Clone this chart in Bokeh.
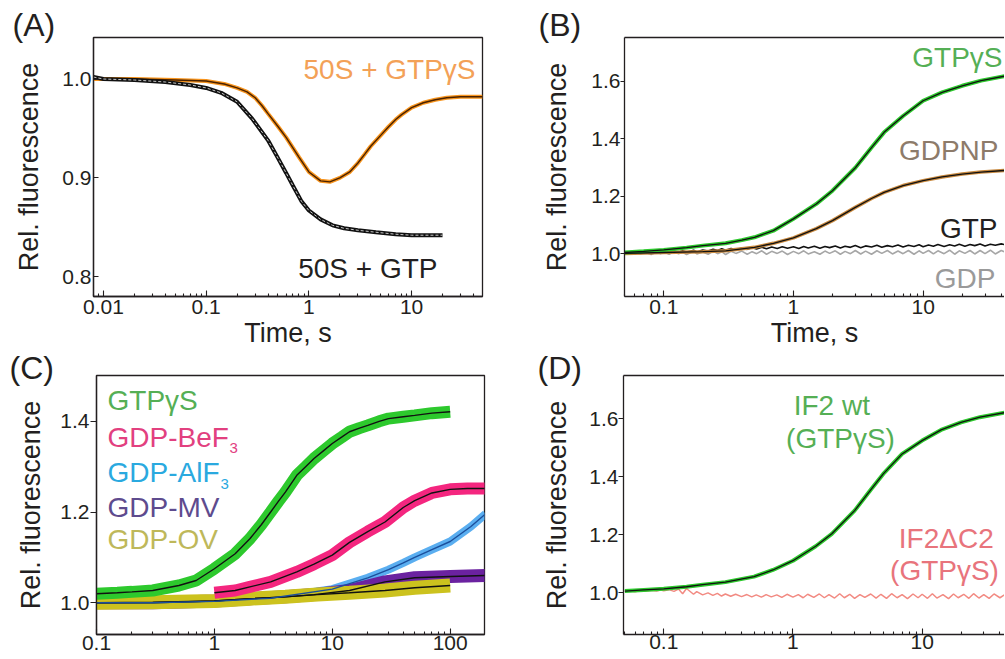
import math
from bokeh.plotting import figure
from bokeh.models import (Label, FixedTicker, LogAxis, CustomJSTickFormatter,
                          PrintfTickFormatter, Range1d)
from bokeh.layouts import column, row
from bokeh.embed import file_html
from bokeh.resources import INLINE

FONT = "Liberation Sans"
INK = "#231f20"

# ---------------- data ----------------
# Panel A
A_X_TICKS = [0.01, 0.1, 1, 10]
A_Y_TICKS = [0.8, 0.9, 1.0]
A_GTPGS_T = [0.008, 0.01, 0.02, 0.05, 0.1, 0.15, 0.2, 0.25, 0.3, 0.35,
             0.4, 0.5, 0.6, 0.8, 1.0, 1.3, 1.6, 2.0, 2.5, 3.0,
             3.5, 4.0, 5.0, 6.0, 7.0, 8.0, 10, 13, 17, 22, 30, 40, 49]
A_GTPGS_V = [1.0, 1.0, 1.0, 0.999, 0.998, 0.995, 0.991, 0.987, 0.981, 0.973,
             0.965, 0.952, 0.941, 0.921, 0.906, 0.897, 0.896, 0.900, 0.906, 0.915,
             0.924, 0.932, 0.943, 0.952, 0.959, 0.964, 0.971, 0.976, 0.979, 0.981,
             0.982, 0.982, 0.982]
A_GTP_T = [0.008, 0.01, 0.02, 0.04, 0.07, 0.1, 0.14, 0.2, 0.28, 0.4,
           0.5, 0.6, 0.7, 0.85, 1.0, 1.3, 1.7, 2.2, 3.0, 4.5,
           7, 10, 15, 20]
A_GTP_V = [1.002, 1.0, 0.999, 0.997, 0.994, 0.991, 0.986, 0.977, 0.960, 0.938,
           0.920, 0.905, 0.892, 0.876, 0.867, 0.858, 0.852, 0.849, 0.847, 0.845,
           0.843, 0.842, 0.842, 0.842]

# Panel B
B_X_TICKS = [0.1, 1, 10]
B_Y_TICKS = [1.0, 1.2, 1.4, 1.6]
B_GTPGS_T = [0.05, 0.07, 0.1, 0.15, 0.2, 0.3, 0.4, 0.5, 0.7, 1.0,
             1.5, 2.0, 3.0, 4.0, 5.0, 7.0, 10, 14, 20, 28, 44]
B_GTPGS_V = [1.005, 1.009, 1.014, 1.022, 1.029, 1.037, 1.048, 1.058, 1.081, 1.122,
             1.174, 1.22, 1.30, 1.37, 1.423, 1.48, 1.533, 1.562, 1.585, 1.603, 1.62]
B_GDPNP_T = [0.05, 0.1, 0.2, 0.3, 0.5, 0.7, 1.0, 1.5, 2.0, 3.0,
             4.0, 5.0, 7.0, 10, 14, 20, 28, 44]
B_GDPNP_V = [1.002, 1.005, 1.008, 1.011, 1.023, 1.037, 1.056, 1.088, 1.116, 1.162,
             1.193, 1.214, 1.238, 1.255, 1.268, 1.278, 1.285, 1.291]
NOISE_T = [0.05, 0.055, 0.06, 0.066, 0.072, 0.08, 0.088, 0.095, 0.1, 0.11,
           0.12, 0.13, 0.14, 0.15, 0.17, 0.18, 0.2, 0.22, 0.24, 0.26,
           0.28, 0.3, 0.33, 0.36, 0.4, 0.44, 0.48, 0.52, 0.57, 0.62,
           0.68, 0.75, 0.82, 0.9, 1.0, 1.1, 1.2, 1.3, 1.45, 1.6,
           1.75, 1.9, 2.1, 2.3, 2.5, 2.75, 3.0, 3.3, 3.6, 4.0,
           4.4, 4.8, 5.3, 5.8, 6.4, 7.0, 7.7, 8.5, 9.3, 10,
           11, 12, 13, 14.5, 16, 17.5, 19, 21, 23, 25,
           27.5, 30, 33, 36, 40, 44]
B_GTP_V = [1.004, 1.001, 1.006, 1.003, 1.007, 1.002, 1.008, 1.005, 1.009, 1.004,
           1.010, 1.006, 1.011, 1.007, 1.013, 1.008, 1.014, 1.010, 1.016, 1.012,
           1.018, 1.013, 1.019, 1.015, 1.021, 1.016, 1.022, 1.017, 1.023, 1.018,
           1.024, 1.019, 1.025, 1.020, 1.025, 1.019, 1.026, 1.021, 1.027, 1.020,
           1.026, 1.022, 1.028, 1.021, 1.027, 1.023, 1.029, 1.022, 1.028, 1.024,
           1.030, 1.023, 1.029, 1.025, 1.031, 1.024, 1.030, 1.026, 1.032, 1.025,
           1.031, 1.027, 1.033, 1.026, 1.032, 1.028, 1.034, 1.027, 1.033, 1.029,
           1.035, 1.028, 1.034, 1.030, 1.035, 1.031]
B_GDP_V = [1.002, 0.999, 1.004, 1.000, 1.005, 0.998, 1.006, 1.001, 1.007, 0.999,
           1.008, 1.001, 1.006, 0.998, 1.009, 1.000, 1.007, 0.999, 1.010, 1.001,
           1.008, 0.998, 1.009, 1.002, 1.010, 0.999, 1.008, 1.001, 1.011, 0.999,
           1.009, 1.002, 1.010, 0.998, 1.009, 1.001, 1.011, 1.000, 1.008, 0.999,
           1.010, 1.002, 1.011, 0.999, 1.009, 1.001, 1.012, 1.000, 1.010, 0.999,
           1.011, 1.002, 1.012, 1.000, 1.010, 1.001, 1.012, 0.999, 1.011, 1.002,
           1.012, 1.000, 1.011, 1.001, 1.013, 0.999, 1.011, 1.002, 1.012, 1.000,
           1.012, 1.001, 1.013, 1.000, 1.012, 1.004]

# Panel C
C_X_TICKS = [0.1, 1, 10, 100]
C_Y_TICKS = [1.0, 1.2, 1.4]
C_GTPGS_T = [0.1, 0.15, 0.2, 0.3, 0.5, 0.7, 1.0, 1.5, 2, 2.5,
             3, 3.5, 4, 5, 6, 7, 8.5, 10, 12, 14,
             17, 20, 25, 30, 40, 50, 70, 100]
C_GTPGS_V = [1.02, 1.022, 1.024, 1.027, 1.038, 1.049, 1.075, 1.108, 1.141, 1.172,
             1.20, 1.224, 1.244, 1.281, 1.301, 1.318, 1.336, 1.351, 1.365, 1.377,
             1.385, 1.391, 1.400, 1.406, 1.410, 1.413, 1.418, 1.421]
C_BEF_T = [1.0, 1.5, 2, 3, 5, 7, 10, 14, 20, 28, 40, 50, 70, 100, 140, 200]
C_BEF_V = [1.022, 1.027, 1.035, 1.046, 1.068, 1.085, 1.105, 1.133, 1.157, 1.178,
           1.21, 1.225, 1.242, 1.25, 1.252, 1.252]
C_ALF_T = [0.1, 0.3, 1, 3, 10, 20, 30, 40, 50, 70, 100, 150, 200]
C_ALF_V = [1.0, 1.0, 1.003, 1.01, 1.03, 1.055, 1.073, 1.088, 1.10, 1.117, 1.135, 1.168, 1.196]
C_MV_T = [0.1, 0.3, 1, 2, 4, 7, 14, 28, 50, 100, 200]
C_MV_V = [1.0, 1.0, 1.004, 1.009, 1.013, 1.018, 1.027, 1.046, 1.055, 1.058, 1.06]
C_OV_T = [0.1, 0.3, 1, 2, 4, 7.5, 14, 28, 50, 100]
C_OV_V = [1.0, 1.001, 1.004, 1.009, 1.013, 1.018, 1.022, 1.027, 1.033, 1.038]

# Panel D
D_X_TICKS = [0.1, 1, 10]
D_Y_TICKS = [1.0, 1.2, 1.4, 1.6]
D_WT_T = [0.05, 0.07, 0.1, 0.15, 0.2, 0.3, 0.5, 0.7, 1.0, 1.5,
          2.0, 3.0, 4.0, 5.0, 7.0, 10, 14, 20, 28, 44]
D_WT_V = [1.005, 1.009, 1.013, 1.02, 1.027, 1.036, 1.055, 1.078, 1.11, 1.16,
          1.203, 1.283, 1.355, 1.41, 1.479, 1.525, 1.562, 1.588, 1.606, 1.622]
D_DC2_V = [1.004, 1.006, 1.003, 1.007, 1.004, 1.008, 1.005, 1.009, 1.006, 1.010,
           1.004, 1.012, 0.996, 1.014, 0.994, 1.003, 0.992, 0.999, 0.990, 0.997,
           0.988, 0.995, 0.987, 0.994, 0.986, 0.993, 0.985, 0.992, 0.984, 0.993,
           0.985, 0.992, 0.983, 0.994, 0.984, 0.993, 0.982, 0.994, 0.983, 0.995,
           0.982, 0.993, 0.981, 0.996, 0.982, 0.994, 0.980, 0.993, 0.983, 0.995,
           0.981, 0.994, 0.980, 0.996, 0.982, 0.993, 0.979, 0.995, 0.982, 0.994,
           0.980, 0.996, 0.981, 0.993, 0.979, 0.995, 0.982, 0.994, 0.980, 0.996,
           0.981, 0.993, 0.980, 0.995, 0.982, 0.994]

# ---------------- colours ----------------
ORANGE_DATA, ORANGE_TEXT, ORANGE_FIT = "#F7941D", "#F3A157", "#4a2200"
GREEN_DATA, GREEN_TEXT = "#2DC92D", "#55AF55"
BROWN_DATA, BROWN_TEXT = "#C8893F", "#8D7B6A"
GRAY_DATA, GRAY_TEXT = "#A6A6A6", "#9A9A9A"
PINK_DATA, PINK_TEXT = "#F4267F", "#E2407F"
BLUE_DATA, BLUE_FIT, BLUE_TEXT = "#5AAEF0", "#1B4F9C", "#2AA9DF"
PURPLE_DATA, PURPLE_TEXT = "#6B22A0", "#5E4B8E"
OLIVE_DATA, OLIVE_TEXT = "#CCC21E", "#BEB85A"
SALMON_DATA, SALMON_TEXT = "#F28A82", "#E8747C"


def panel(tag, xr, yr, fw, fh, mbl, mbr, mbt, mbb, xticks, yticks,
          xstand, ytick_in, ytick_out, ystand, ylab_stand,
          title_off, title_stand, xlabel, xlab_stand, outline):
    p = figure(x_axis_type="log", x_range=Range1d(*xr), y_range=Range1d(*yr),
               frame_width=fw, frame_height=fh,
               min_border_left=mbl, min_border_right=mbr,
               min_border_top=mbt, min_border_bottom=mbb,
               toolbar_location=None, output_backend="svg", title=tag)
    xa = p.below[0]
    ya = p.left[0]
    p.grid.visible = False
    p.background_fill_color = "white"
    p.border_fill_color = "white"
    t = p.title
    t.align = "left"
    t.offset = title_off
    t.standoff = title_stand
    t.text_font = FONT
    t.text_font_size = "32px"
    t.text_font_style = "normal"
    t.text_color = INK
    if outline:
        p.outline_line_color = INK
        p.outline_line_width = 1.3
    else:
        p.outline_line_color = None
        top = LogAxis(ticker=FixedTicker(ticks=[], minor_ticks=[]),
                      axis_line_color=INK, axis_line_width=1.3,
                      major_tick_in=0, major_tick_out=0,
                      minor_tick_in=0, minor_tick_out=0, major_label_standoff=0)
        p.add_layout(top, "above")
    lo = math.floor(math.log10(xr[0]))
    hi = math.ceil(math.log10(xr[1]))
    minors = [m * 10.0 ** e for e in range(lo, hi) for m in range(2, 10)]
    xa.ticker = FixedTicker(ticks=xticks, minor_ticks=minors)
    xa.formatter = CustomJSTickFormatter(code="return String(tick)")
    ya.ticker = FixedTicker(ticks=yticks, minor_ticks=[])
    ya.formatter = PrintfTickFormatter(format="%.1f")
    for ax in (xa, ya):
        ax.axis_line_color = INK
        ax.axis_line_width = 1.3
        ax.major_tick_line_color = INK
        ax.minor_tick_line_color = INK
        ax.major_tick_line_width = 1.1
        ax.minor_tick_line_width = 1.1
        ax.minor_tick_out = 0
        ax.major_label_text_font = FONT
        ax.major_label_text_color = INK
        ax.major_label_text_font_size = "21px"
        ax.axis_label_text_font = FONT
        ax.axis_label_text_font_size = "27px"
        ax.axis_label_text_font_style = "normal"
        ax.axis_label_text_color = INK
    xa.major_tick_in = 6
    xa.major_tick_out = 0
    xa.minor_tick_in = 3
    xa.major_label_standoff = xstand
    if xlabel:
        xa.axis_label = xlabel
        xa.axis_label_standoff = xlab_stand
    ya.major_tick_in = ytick_in
    ya.major_tick_out = ytick_out
    ya.major_label_standoff = ystand
    ya.axis_label = "Rel. fluorescence"
    ya.axis_label_standoff = ylab_stand
    return p


def put(p, fl, fb, x, y, text, size, color, align="left"):
    # x, y: left/centre/right edge and vertical centre of the text, in page pixels
    p.add_layout(Label(x=x - fl, y=fb - y, x_units="screen", y_units="screen",
                       text=text, text_font=FONT, text_font_size=f"{size}px",
                       text_color=color, text_align=align,
                       text_baseline="middle"))


# ---------------- Panel A ----------------
pA = panel("(A)", (0.008, 49), (0.78, 1.042), 389, 259, 93, 18, 37, 54,
           A_X_TICKS, A_Y_TICKS, 3, 5, 0, 2, 15, -81, -10, "Time, s", 1, True)
pA.line(A_GTPGS_T, A_GTPGS_V, line_color=ORANGE_DATA, line_width=4)
pA.line(A_GTPGS_T, A_GTPGS_V, line_color=ORANGE_FIT, line_width=1.4)
pA.line(A_GTP_T, A_GTP_V, line_color="#111111", line_width=4)
pA.line(A_GTP_T, A_GTP_V, line_color="#c8c8c8", line_width=1, line_dash="3 2")
fl, fb = 93, 296
put(pA, fl, fb, 475, 68.8, "50S + GTPγS", 28, ORANGE_TEXT, "right")
put(pA, fl, fb, 437, 268.3, "50S + GTP", 28, INK, "right")

# ---------------- Panel B ----------------
pB = panel("(B)", (0.0498, 42.4), (0.852, 1.753), 380, 259, 124, 0, 37, 54,
           B_X_TICKS, B_Y_TICKS, 3, 0, 4, 0, 16, -86, -10, "Time, s", 1, False)
pB.line(NOISE_T, B_GDP_V, line_color=GRAY_DATA, line_width=1.6)
pB.line(NOISE_T, B_GTP_V, line_color="#111111", line_width=1.6)
pB.line(B_GDPNP_T, B_GDPNP_V, line_color=BROWN_DATA, line_width=3.5)
pB.line(B_GTPGS_T, B_GTPGS_V, line_color=GREEN_DATA, line_width=4)
pB.line(B_GDPNP_T, B_GDPNP_V, line_color="#111111", line_width=1.3)
pB.line(B_GTPGS_T, B_GTPGS_V, line_color="#111111", line_width=1.3)
fl, fb = 624, 296
put(pB, fl, fb, 1002, 56.7, "GTPγS", 28, GREEN_TEXT, "right")
put(pB, fl, fb, 998, 150, "GDPNP", 28, BROWN_TEXT, "right")
put(pB, fl, fb, 997, 227.5, "GTP", 28, INK, "right")
put(pB, fl, fb, 995, 278, "GDP", 28, GRAY_TEXT, "right")

# ---------------- Panel C ----------------
pC = panel("(C)", (0.1, 195.5), (0.930, 1.501), 388, 259, 96, 16, 23, 26,
           C_X_TICKS, C_Y_TICKS, 1, 0, 6, 1, 11, -87, -20, None, 0, True)
pC.line(C_ALF_T, C_ALF_V, line_color=BLUE_DATA, line_width=8)
pC.line(C_MV_T, C_MV_V, line_color=PURPLE_DATA, line_width=13)
pC.line(C_OV_T, C_OV_V, line_color=OLIVE_DATA, line_width=14)
pC.line(C_BEF_T, C_BEF_V, line_color=PINK_DATA, line_width=12)
pC.line(C_GTPGS_T, C_GTPGS_V, line_color=GREEN_DATA, line_width=12)
pC.line(C_MV_T, C_MV_V, line_color="#111111", line_width=1.4)
pC.line(C_OV_T, C_OV_V, line_color="#111111", line_width=1.4)
pC.line(C_ALF_T, C_ALF_V, line_color=BLUE_FIT, line_width=1.4)
pC.line(C_BEF_T, C_BEF_V, line_color="#111111", line_width=1.4)
pC.line(C_GTPGS_T, C_GTPGS_V, line_color="#111111", line_width=1.4)
fl, fb = 96, 632
put(pC, fl, fb, 107, 398, "GTPγS", 28, GREEN_TEXT)
put(pC, fl, fb, 107, 435, "GDP-BeF", 28, PINK_TEXT)
put(pC, fl, fb, 229, 445, "3", 15, PINK_TEXT)
put(pC, fl, fb, 107, 470, "GDP-AlF", 28, BLUE_TEXT)
put(pC, fl, fb, 220, 481, "3", 15, BLUE_TEXT)
put(pC, fl, fb, 107, 505, "GDP-MV", 28, PURPLE_TEXT)
put(pC, fl, fb, 107, 536.7, "GDP-OV", 28, OLIVE_TEXT)

# ---------------- Panel D ----------------
pD = panel("(D)", (0.0488, 43.4), (0.855, 1.75), 381, 259, 123, 0, 25, 24,
           D_X_TICKS, D_Y_TICKS, 0, 0, 5, 0, 14, -86, -20, None, 0, False)
pD.line(NOISE_T, D_DC2_V, line_color=SALMON_DATA, line_width=1.5)
pD.line(D_WT_T, D_WT_V, line_color=GREEN_DATA, line_width=4)
pD.line(D_WT_T, D_WT_V, line_color="#111111", line_width=1.3)
fl, fb = 623, 634
put(pD, fl, fb, 831.3, 405, "IF2 wt", 28, GREEN_TEXT, "center")
put(pD, fl, fb, 840, 438, "(GTPγS)", 28, GREEN_TEXT, "center")
put(pD, fl, fb, 945.8, 538, "IF2ΔC2", 28, SALMON_TEXT, "center")
put(pD, fl, fb, 944, 570, "(GTPγS)", 28, SALMON_TEXT, "center")

layout = column(row(pA, pB), row(pC, pD))
open("out.html", "w").write(file_html(layout, INLINE))
